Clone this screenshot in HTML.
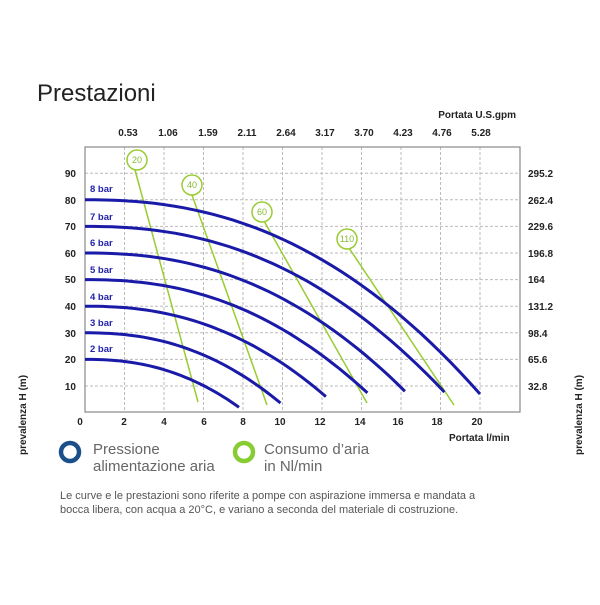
<!DOCTYPE html>
<html><head><meta charset="utf-8"><style>body{margin:0;background:#fff}</style></head><body>
<svg width="600" height="600" xmlns="http://www.w3.org/2000/svg" font-family="Liberation Sans, sans-serif">
<rect width="600" height="600" fill="#fff"/>
<text x="37" y="101" font-size="24" fill="#222">Prestazioni</text>
<text x="516" y="118" font-size="10" font-weight="bold" fill="#222" text-anchor="end">Portata U.S.gpm</text>
<g font-size="10" font-weight="bold" fill="#222" text-anchor="middle">
<text x="128" y="136">0.53</text><text x="168" y="136">1.06</text><text x="208" y="136">1.59</text><text x="247" y="136">2.11</text><text x="286" y="136">2.64</text><text x="325" y="136">3.17</text><text x="364" y="136">3.70</text><text x="403" y="136">4.23</text><text x="442" y="136">4.76</text><text x="481" y="136">5.28</text>
</g>
<g stroke="#bbb" stroke-width="1" stroke-dasharray="3,2">
<line x1="124.5" y1="147" x2="124.5" y2="412"/><line x1="164" y1="147" x2="164" y2="412"/><line x1="203.5" y1="147" x2="203.5" y2="412"/><line x1="243" y1="147" x2="243" y2="412"/><line x1="282.5" y1="147" x2="282.5" y2="412"/><line x1="322" y1="147" x2="322" y2="412"/><line x1="361.5" y1="147" x2="361.5" y2="412"/><line x1="401" y1="147" x2="401" y2="412"/><line x1="440.5" y1="147" x2="440.5" y2="412"/><line x1="480" y1="147" x2="480" y2="412"/>
<line x1="85" y1="386" x2="520" y2="386"/><line x1="85" y1="359.4" x2="520" y2="359.4"/><line x1="85" y1="332.8" x2="520" y2="332.8"/><line x1="85" y1="306.2" x2="520" y2="306.2"/><line x1="85" y1="279.6" x2="520" y2="279.6"/><line x1="85" y1="253" x2="520" y2="253"/><line x1="85" y1="226.4" x2="520" y2="226.4"/><line x1="85" y1="199.8" x2="520" y2="199.8"/><line x1="85" y1="173.2" x2="520" y2="173.2"/>
</g>
<rect x="85" y="147" width="435" height="265" fill="none" stroke="#888" stroke-width="1.2"/>
<g font-size="10" font-weight="bold" fill="#222" text-anchor="end">
<text x="76" y="390">10</text><text x="76" y="363">20</text><text x="76" y="337">30</text><text x="76" y="310">40</text><text x="76" y="283">50</text><text x="76" y="257">60</text><text x="76" y="230">70</text><text x="76" y="204">80</text><text x="76" y="177">90</text>
</g>
<g font-size="10" font-weight="bold" fill="#222">
<text x="528" y="390">32.8</text><text x="528" y="363">65.6</text><text x="528" y="337">98.4</text><text x="528" y="310">131.2</text><text x="528" y="283">164</text><text x="528" y="257">196.8</text><text x="528" y="230">229.6</text><text x="528" y="204">262.4</text><text x="528" y="177">295.2</text>
</g>
<g font-size="10" font-weight="bold" fill="#222" text-anchor="middle">
<text x="80" y="425">0</text><text x="124" y="425">2</text><text x="164" y="425">4</text><text x="204" y="425">6</text><text x="243" y="425">8</text><text x="280" y="425">10</text><text x="320" y="425">12</text><text x="360" y="425">14</text><text x="398" y="425">16</text><text x="437" y="425">18</text><text x="477" y="425">20</text>
</g>
<text x="449" y="441" font-size="10" font-weight="bold" fill="#222">Portata  l/min</text>
<text transform="translate(26,455) rotate(-90)" font-size="10" font-weight="bold" fill="#222">prevalenza  H (m)</text>
<text transform="translate(582,455) rotate(-90)" font-size="10" font-weight="bold" fill="#222">prevalenza  H (m)</text>
<g id="green" stroke="#9c3" stroke-width="1.5" fill="#fff">
<line x1="135" y1="170" x2="198" y2="402"/><line x1="192" y1="195" x2="267" y2="405"/><line x1="264" y1="221" x2="367" y2="403"/><line x1="349" y1="248" x2="454" y2="405"/>
</g>
<g id="blue" stroke="#1a1aa8" stroke-width="3" fill="none"></g>
<g stroke="#9c3" stroke-width="1.5" fill="#fff">
<circle cx="137" cy="160" r="10"/><circle cx="192" cy="185" r="10"/><circle cx="262" cy="212" r="10"/><circle cx="347" cy="239" r="10"/>
</g>
<g font-size="9" fill="#8b3" text-anchor="middle">
<text x="137" y="163">20</text><text x="192" y="188">40</text><text x="262" y="215">60</text><text x="347" y="242">110</text>
</g>
<g font-size="9.5" font-weight="bold" fill="#22a">
<text x="90" y="192">8 bar</text><text x="90" y="220">7 bar</text><text x="90" y="246">6 bar</text><text x="90" y="273">5 bar</text><text x="90" y="300">4 bar</text><text x="90" y="326">3 bar</text><text x="90" y="352">2 bar</text>
</g>
<circle cx="70" cy="452" r="9" fill="none" stroke="#1a4f8a" stroke-width="4.5"/>
<circle cx="244" cy="452" r="9" fill="none" stroke="#8c3" stroke-width="4.5"/>
<g font-size="15" fill="#666">
<text x="93" y="454">Pressione</text><text x="93" y="471">alimentazione aria</text>
<text x="264" y="454">Consumo d’aria</text><text x="264" y="471">in Nl/min</text>
</g>
<g font-size="11" fill="#555">
<text x="60" y="499">Le curve e le prestazioni sono riferite a pompe con aspirazione immersa e mandata a</text>
<text x="60" y="513">bocca libera, con acqua a 20°C, e variano a seconda del materiale di costruzione.</text>
</g>
<script>
var c=[[80,20,7],[70,18.2,7.7],[60,16.2,8],[50,14.3,7.4],[40,12.2,6],[30,9.9,3.6],[20,7.8,2]];
var g=document.getElementById('blue'),ns='http://www.w3.org/2000/svg';
c.forEach(function(a){var p=[];for(var i=0;i<=40;i++){var q=a[1]*i/40,h=a[0]-(a[0]-a[2])*Math.pow(i/40,2.3);p.push((85+19.75*q).toFixed(1)+','+(412.6-2.66*h).toFixed(1));}
var e=document.createElementNS(ns,'polyline');e.setAttribute('points',p.join(' '));g.appendChild(e);});
</script>
</svg>
</body></html>
